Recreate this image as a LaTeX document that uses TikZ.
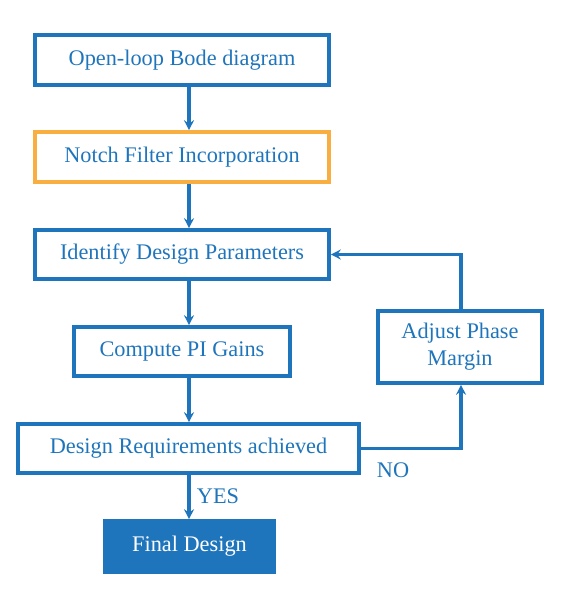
\documentclass[tikz,border=0pt]{standalone}
\usepackage{fontspec}
\setmainfont{Liberation Serif}
\usetikzlibrary{arrows.meta}
\definecolor{fblue}{RGB}{31,117,188}
\definecolor{forange}{RGB}{248,174,64}

\begin{document}
\begin{tikzpicture}
        [x=1pt,y=-1pt,every node/.style={draw=fblue,line width=3.6pt,shape=rectangle,inner sep=0,font=\fontsize{22.3}{27}\selectfont,text=fblue,align=center}, flow/.style={line width=3.2pt, fblue, -{Stealth[length=10pt,width=10pt,inset=3.5pt]}}]

        \useasboundingbox (0,0) rectangle (581,612);

        \node[minimum width=294pt,minimum height=50pt] (b1) at (182, 60) {Open-loop Bode diagram};
        \node[draw=forange,minimum width=294pt,minimum height=50pt] (b2) at (182, 157) {Notch Filter Incorporation};
        \node[minimum width=294pt,minimum height=49pt] (b3) at (182, 254.5) {Identify Design Parameters};
        \node[minimum width=216pt,minimum height=49pt] (b4) at (182, 351.5) {Compute PI Gains};
        \node[minimum width=341pt,minimum height=49pt] (b5) at (188.5, 448.5) {Design Requirements achieved};
        \node[fill=fblue,text=white,minimum width=169pt,minimum height=51pt] (b6) at (189.5, 546.5) {Final Design};
        \node[minimum width=164pt,minimum height=72pt] (b7) at (460, 347) {Adjust Phase\\Margin};

        \node[draw=none] (no) at (393, 470) {NO};
        \node[draw=none] (yes) at (218, 496) {YES};

        \coordinate (c1) at (461, 448.5);
        \coordinate (c2) at (461, 254.5);

        \draw[flow] (b1.south -| 189,0) -- (b2.north -| 189,0);
        \draw[flow] (b2.south -| 189,0) -- (b3.north -| 189,0);
        \draw[flow] (b3.south -| 189,0) -- (b4.north -| 189,0);
        \draw[flow] (b4.south -| 189,0) -- (b5.north -| 189,0);
        \draw[flow] (b5.south -| 189,0) -- (b6.north -| 189,0);
        \draw[flow] (b5.east) -- (c1) -- (b7.south -| c1);
        \draw[flow] (b7.north -| c1) -- (c2) -- (b3.east);

      \end{tikzpicture}
\end{document}
